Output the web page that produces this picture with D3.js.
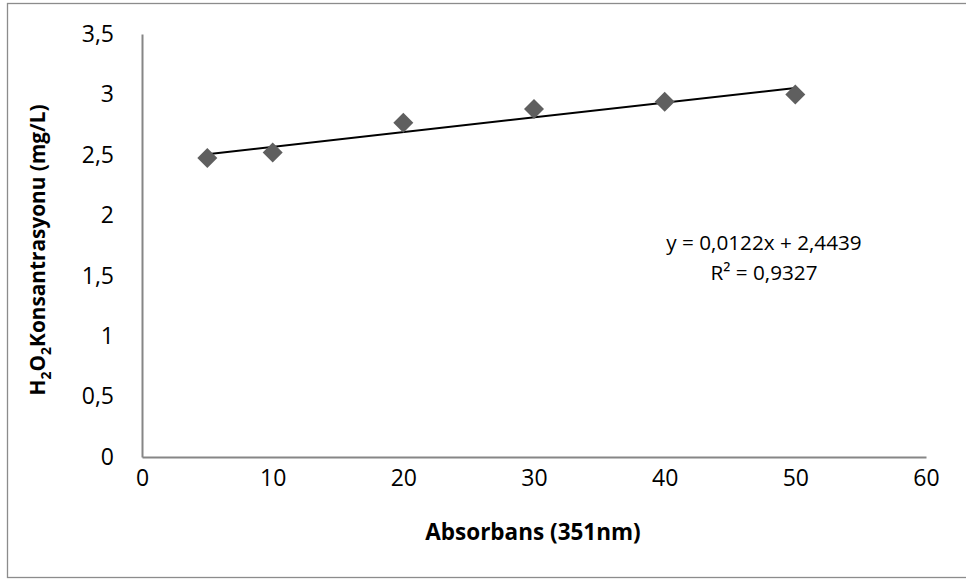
<!DOCTYPE html>
<html>
<head>
<meta charset="utf-8">
<script src="https://cdn.jsdelivr.net/npm/d3@7"></script>
<style>
  body { margin: 0; background: #fff; }
  text { font-family: "Open Sans", "Liberation Sans", sans-serif; fill: #000; }
</style>
</head>
<body>
<svg id="chart" width="966" height="579"></svg>
<script>
// data
const absorbans = [5, 10, 20, 30, 40, 50];
const konsantrasyon = [2.475, 2.52, 2.765, 2.88, 2.94, 3.0];
const xTicks = [0, 10, 20, 30, 40, 50, 60];
const yTicks = [0, 0.5, 1, 1.5, 2, 2.5, 3, 3.5];
const trendSlope = 0.0122;
const trendIntercept = 2.4439;
const trendLabels = ["y = 0,0122x + 2,4439", "R² = 0,9327"];

const svg = d3.select("#chart");
const fmt = d => String(d).replace(".", ",");

// outer chart border (right edge sits outside the window)
svg.append("rect")
  .attr("x", 7.5).attr("y", 3.5)
  .attr("width", 970).attr("height", 574)
  .attr("fill", "none")
  .attr("stroke", "#8c8c8c")
  .attr("stroke-width", 1.3);

const x = d3.scaleLinear().domain([0, 60]).range([142, 926]);
const y = d3.scaleLinear().domain([0, 3.5]).range([457, 34]);

// axes
const xAxis = svg.append("g")
  .attr("transform", `translate(0, ${y(0)})`)
  .call(d3.axisBottom(x).tickValues(xTicks).tickSize(0).tickFormat(fmt));
xAxis.selectAll("text").attr("y", 29).attr("dy", null);

const yAxis = svg.append("g")
  .attr("transform", `translate(${x(0)}, 0)`)
  .call(d3.axisLeft(y).tickValues(yTicks).tickSize(0).tickPadding(28).tickFormat(fmt));

[xAxis, yAxis].forEach(g => {
  g.select(".domain").attr("stroke", "#868686").attr("stroke-width", 2);
  g.selectAll("text")
    .style("font-family", '"Open Sans", sans-serif')
    .attr("font-size", 23)
    .attr("fill", "#000");
});

// trend line
const trend = d3.line()
  .x(d => x(d))
  .y(d => y(trendSlope * d + trendIntercept));
svg.append("path")
  .datum([d3.min(absorbans), d3.max(absorbans)])
  .attr("fill", "none")
  .attr("stroke", "#000")
  .attr("stroke-width", 2)
  .attr("d", trend);

// diamonds
const diamond = d3.symbol().type(d3.symbolSquare).size(200);
svg.selectAll(".pt")
  .data(absorbans)
  .join("path")
  .attr("class", "pt")
  .attr("d", diamond)
  .attr("transform", (d, i) => `translate(${x(d)}, ${y(konsantrasyon[i])}) rotate(45)`)
  .attr("fill", "#5f5f5f");

// trend equation
svg.append("g")
  .selectAll("text")
  .data(trendLabels)
  .join("text")
  .attr("x", 764)
  .attr("y", (d, i) => 250 + i * 30)
  .attr("text-anchor", "middle")
  .attr("font-size", 20.7)
  .text(d => d);

// axis titles
svg.append("text")
  .attr("x", 533)
  .attr("y", 540)
  .attr("text-anchor", "middle")
  .attr("font-size", 22.5)
  .attr("font-weight", "bold")
  .text("Absorbans (351nm)");

const yTitle = svg.append("text")
  .attr("transform", "translate(45, 250) rotate(-90)")
  .attr("text-anchor", "middle")
  .attr("font-size", 20.8)
  .attr("font-weight", "bold");
yTitle.append("tspan").text("H");
yTitle.append("tspan").attr("font-size", 14).attr("dy", 6).text("2");
yTitle.append("tspan").attr("dy", -6).text("O");
yTitle.append("tspan").attr("font-size", 14).attr("dy", 6).text("2");
yTitle.append("tspan").attr("dy", -6).text("Konsantrasyonu (mg/L)");
</script>
</body>
</html>
